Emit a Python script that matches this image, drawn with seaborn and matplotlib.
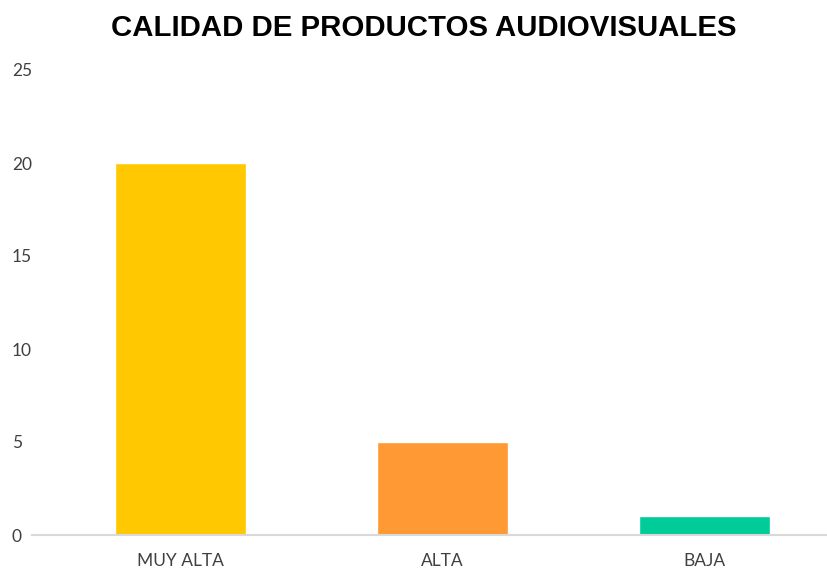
import matplotlib
matplotlib.use("Agg")
import matplotlib.pyplot as plt
import seaborn as sns
import pandas as pd

# --- Data ---
categorias = ["MUY ALTA", "ALTA", "BAJA"]
valores = [20, 5, 1]
colores = ["#FFC800", "#FF9933", "#00CC99"]

df = pd.DataFrame({"categoria": categorias, "valor": valores})

sns.set_style("white")
plt.rcParams["font.family"] = ["Lato", "DejaVu Sans"]

fig = plt.figure(figsize=(8.28, 5.71), dpi=100)
ax = fig.add_axes([32 / 828, 1 - 535 / 571, 1 - 32 / 828, (535 - 70) / 571])

sns.barplot(data=df, x="categoria", y="valor", hue="categoria",
            palette=colores, width=0.5, legend=False, ax=ax, saturation=1)

ax.set_ylim(0, 25)
ax.set_xlim(-0.567, 2.471)
ax.set_yticks([0, 5, 10, 15, 20, 25])
ax.set_xlabel("")
ax.set_ylabel("")

# --- Axis styling ---
for side in ["top", "right", "left"]:
    ax.spines[side].set_visible(False)
ax.spines["bottom"].set_color("#D9D9D9")
ax.spines["bottom"].set_linewidth(1.5)
ax.tick_params(axis="both", length=0, labelsize=12.5, colors="#404040")
ax.tick_params(axis="y", pad=14.4)
ax.tick_params(axis="x", pad=13)
for lbl in ax.get_yticklabels():
    lbl.set_horizontalalignment("left")

fig.text(424 / 828, 1 - 28 / 571, "CALIDAD DE PRODUCTOS AUDIOVISUALES",
         ha="center", va="center", fontsize=21.2, fontweight="bold",
         family=["Liberation Sans", "DejaVu Sans"], color="black")

fig.savefig("out.png", dpi=100)
